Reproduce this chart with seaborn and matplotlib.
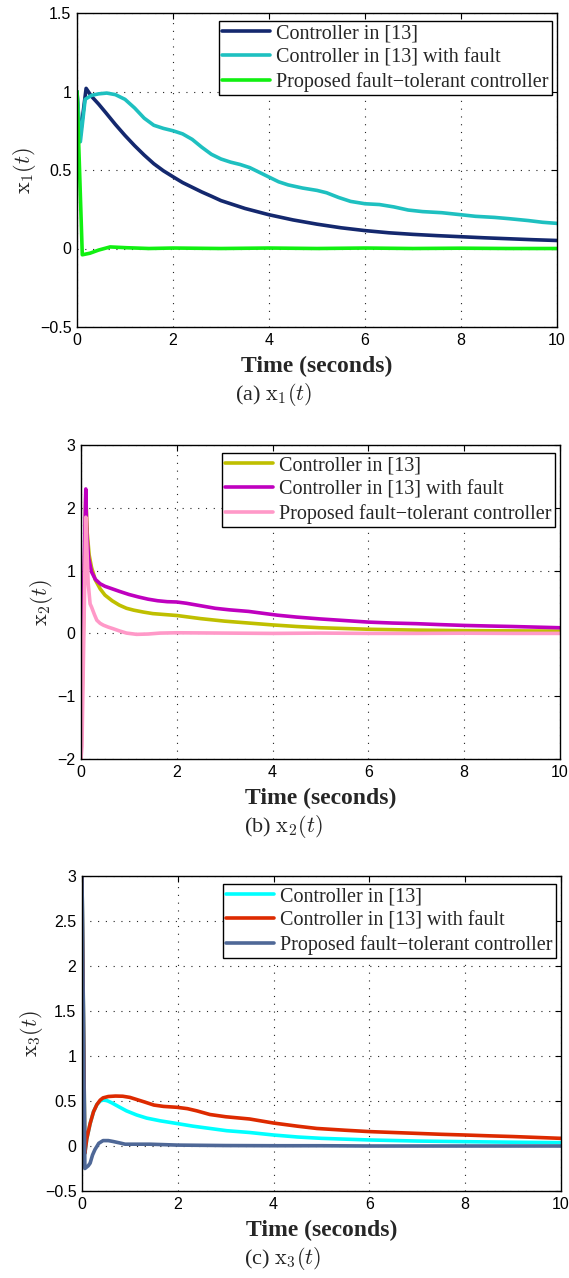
import numpy as np
import pandas as pd
import matplotlib
matplotlib.use("Agg")
import matplotlib.pyplot as plt
import seaborn as sns

# ---------------- data ----------------
legend_labels = ["Controller in [13]", "Controller in [13] with fault",
                 "Proposed fault\u2212tolerant controller"]

# panel (a) x1(t)
t1_nom = [0, 0.06, 0.19, 0.3, 0.45, 0.6, 0.8, 1.0, 1.2, 1.4, 1.6, 1.8, 2.0, 2.2, 2.4, 2.6, 2.8,
          3.0, 3.25, 3.5, 3.75, 4.0, 4.5, 5.0, 5.5, 6.0, 6.5, 7.0, 7.5, 8.0, 8.5, 9.0, 9.5, 10]
x1_nom = [1.0, 0.70, 1.02, 0.97, 0.92, 0.865, 0.79, 0.72, 0.655, 0.595, 0.54, 0.495, 0.457, 0.42,
          0.39, 0.36, 0.333, 0.305, 0.28, 0.255, 0.235, 0.215, 0.182, 0.155, 0.132, 0.114, 0.10,
          0.09, 0.082, 0.075, 0.068, 0.062, 0.056, 0.051]
t1_fault = [0, 0.07, 0.17, 0.3, 0.45, 0.62, 0.8, 1.0, 1.2, 1.4, 1.6, 1.8, 2.0, 2.2, 2.4, 2.6, 2.8,
            3.0, 3.2, 3.4, 3.6, 3.8, 4.0, 4.2, 4.4, 4.7, 5.0, 5.2, 5.45, 5.7, 6.0, 6.3, 6.6, 6.9,
            7.2, 7.6, 8.0, 8.3, 8.7, 9.0, 9.4, 9.7, 10]
x1_fault = [1.0, 0.68, 0.95, 0.975, 0.985, 0.99, 0.98, 0.95, 0.895, 0.83, 0.785, 0.765, 0.75,
            0.73, 0.695, 0.645, 0.60, 0.57, 0.55, 0.535, 0.515, 0.485, 0.455, 0.425, 0.405, 0.385,
            0.37, 0.355, 0.325, 0.30, 0.285, 0.28, 0.265, 0.245, 0.235, 0.228, 0.215, 0.205,
            0.198, 0.19, 0.178, 0.167, 0.16]
t1_ftc = [0, 0.11, 0.27, 0.45, 0.69, 1.03, 1.5, 2.0, 3, 4, 5, 6, 7, 8, 9, 10]
x1_ftc = [1.0, -0.04, -0.03, -0.01, 0.01, 0.005, 0.0, 0.003, 0.0, 0.003, 0.0, 0.003, 0.0, 0.002,
          0.0, 0.0]

# panel (b) x2(t)
t2_nom = [0, 0.1, 0.13, 0.17, 0.22, 0.3, 0.4, 0.5, 0.65, 0.8, 0.95, 1.1, 1.3, 1.5, 1.75, 2.0,
          2.5, 3.0, 3.5, 4.0, 4.5, 5.0, 6.0, 7.0, 8.0, 9.0, 10]
x2_nom = [-2.0, 2.2, 1.6, 1.25, 1.05, 0.85, 0.71, 0.61, 0.52, 0.45, 0.40, 0.37, 0.34, 0.315,
          0.30, 0.285, 0.235, 0.195, 0.165, 0.135, 0.11, 0.09, 0.066, 0.052, 0.044, 0.04, 0.037]
t2_fault = [0, 0.1, 0.12, 0.16, 0.22, 0.3, 0.4, 0.5, 0.65, 0.8, 1.0, 1.2, 1.4, 1.6, 1.8, 2.0,
            2.2, 2.5, 2.8, 3.1, 3.5, 3.8, 4.1, 4.5, 5.0, 5.5, 6.0, 6.5, 7.0, 7.5, 8.0, 8.5, 9.0,
            9.5, 10]
x2_fault = [-1.3, 2.3, 1.6, 1.2, 0.98, 0.86, 0.79, 0.75, 0.71, 0.67, 0.62, 0.58, 0.545, 0.52,
            0.505, 0.50, 0.48, 0.44, 0.40, 0.375, 0.35, 0.32, 0.29, 0.26, 0.23, 0.205, 0.18,
            0.165, 0.155, 0.14, 0.127, 0.118, 0.11, 0.10, 0.09]
t2_ftc = [0, 0.02, 0.1, 0.15, 0.19, 0.22, 0.28, 0.33, 0.4, 0.47, 0.57, 0.67, 0.8, 0.95, 1.16,
          1.4, 1.65, 2.0, 3, 4, 5, 6, 7, 8, 9, 10]
x2_ftc = [-2.0, -1.8, 1.85, 0.8, 0.47, 0.42, 0.30, 0.21, 0.16, 0.13, 0.10, 0.075, 0.04, 0.005,
          -0.015, -0.01, 0.005, 0.01, 0.005, 0.0, 0.005, 0.0, 0.0, 0.003, 0.0, 0.0]

# panel (c) x3(t)
t3_nom = [0, 0.06, 0.1, 0.17, 0.24, 0.31, 0.38, 0.44, 0.52, 0.62, 0.79, 0.93, 1.14, 1.35, 1.63,
          1.98, 2.32, 2.67, 3.02, 3.5, 4.0, 4.5, 5.0, 6.0, 7.0, 8.0, 9.0, 10]
x3_nom = [3.0, -0.08, 0.08, 0.25, 0.38, 0.46, 0.50, 0.51, 0.505, 0.48, 0.43, 0.39, 0.345, 0.31,
          0.28, 0.25, 0.22, 0.195, 0.17, 0.15, 0.122, 0.10, 0.085, 0.067, 0.055, 0.048, 0.042,
          0.037]
t3_fault = [0, 0.06, 0.1, 0.17, 0.24, 0.31, 0.38, 0.44, 0.55, 0.7, 0.85, 1.0, 1.15, 1.3, 1.5,
            1.7, 1.98, 2.2, 2.4, 2.67, 3.0, 3.5, 4.0, 4.5, 4.9, 5.5, 6.0, 6.5, 7.0, 7.5, 8.0,
            8.5, 9.0, 9.5, 10]
x3_fault = [3.0, -0.08, 0.08, 0.25, 0.38, 0.46, 0.51, 0.535, 0.55, 0.555, 0.553, 0.54, 0.515,
            0.49, 0.455, 0.44, 0.43, 0.415, 0.39, 0.35, 0.325, 0.30, 0.255, 0.22, 0.195, 0.175,
            0.16, 0.15, 0.14, 0.13, 0.122, 0.113, 0.105, 0.095, 0.085]
t3_ftc = [0, 0.06, 0.13, 0.17, 0.22, 0.27, 0.35, 0.44, 0.55, 0.65, 0.78, 0.9, 1.42, 2.0, 3.0,
          4.0, 5.0, 6.0, 7.0, 8.0, 9.0, 10]
x3_ftc = [3.0, -0.25, -0.22, -0.19, -0.10, -0.04, 0.03, 0.06, 0.06, 0.05, 0.035, 0.02, 0.02,
          0.01, 0.005, 0.003, 0.003, 0.0, 0.0, 0.0, 0.0, 0.0]

x_ticks = [0, 2, 4, 6, 8, 10]
y_ticks_a = [-0.5, 0, 0.5, 1, 1.5]
y_ticks_b = [-2, -1, 0, 1, 2, 3]
y_ticks_c = [-0.5, 0, 0.5, 1, 1.5, 2, 2.5, 3]

colors_a = ["#14286e", "#1ec0c0", "#11f011"]
colors_b = ["#bfbf00", "#bf00bf", "#ff99c8"]
colors_c = ["#00ffff", "#dd2a00", "#4f6897"]

# ---------------- style ----------------
sns.set_style("white")
plt.rcParams["font.family"] = ["Liberation Sans", "DejaVu Sans"]
plt.rcParams["mathtext.fontset"] = "cm"
plt.rcParams["axes.linewidth"] = 1.0

W, H = 569, 1278
fig = plt.figure(figsize=(W / 100, H / 100), dpi=100)

panels = [
    dict(left=77, right=557, top=13, bottom=327, series=[(t1_nom, x1_nom), (t1_fault, x1_fault), (t1_ftc, x1_ftc)],
         colors=colors_a, yt=y_ticks_a, ylim=(-0.5, 1.5), ylab=r"$\mathrm{x}_1(t)$", ylx=38,
         cap=r"(a) $\mathrm{x}_1(t)$", capx=274),
    dict(left=81, right=560, top=445, bottom=759, series=[(t2_nom, x2_nom), (t2_fault, x2_fault), (t2_ftc, x2_ftc)],
         colors=colors_b, yt=y_ticks_b, ylim=(-2, 3), ylab=r"$\mathrm{x}_2(t)$", ylx=55,
         cap=r"(b) $\mathrm{x}_2(t)$", capx=283),
    dict(left=82, right=561, top=876, bottom=1191, series=[(t3_nom, x3_nom), (t3_fault, x3_fault), (t3_ftc, x3_ftc)],
         colors=colors_c, yt=y_ticks_c, ylim=(-0.5, 3), ylab=r"$\mathrm{x}_3(t)$", ylx=45,
         cap=r"(c) $\mathrm{x}_3(t)$", capx=283),
]

for p in panels:
    w = p["right"] - p["left"]
    h = p["bottom"] - p["top"]
    ax = fig.add_axes([p["left"] / W, 1 - p["bottom"] / H, w / W, h / H])
    for (tt, xx), col, lab in zip(p["series"], p["colors"], legend_labels):
        df = pd.DataFrame({"t": tt, "x": xx})
        sns.lineplot(data=df, x="t", y="x", color=col, linewidth=2.6, label=lab,
                     ax=ax, sort=False, estimator=None)
    ax.set_xlim(0, 10)
    ax.set_ylim(*p["ylim"])
    ax.set_xticks(x_ticks)
    ax.set_yticks(p["yt"])
    ax.set_xticklabels([str(v) for v in x_ticks])
    ax.set_yticklabels([("\u2212" if v < 0 else "") + (f"{abs(v):g}") for v in p["yt"]])
    ax.tick_params(direction="in", length=4, width=0.8, top=True, right=True,
                   labelsize=11.5, pad=4, colors="black")
    ax.grid(True, linestyle=(0, (1, 6)), linewidth=0.8, color="#222222")
    for s in ax.spines.values():
        s.set_visible(True)
        s.set_color("black")
        s.set_linewidth(1.0)
    ax.set_xlabel("Time (seconds)", fontsize=17, fontweight="bold",
                  family=["Liberation Serif", "DejaVu Serif"])
    ax.xaxis.set_label_coords(0.5, -29 / h)
    ax.set_ylabel(p["ylab"], fontsize=16)
    ax.yaxis.set_label_coords((p["ylx"] - p["left"]) / w, 0.5)
    leg = ax.legend(loc="upper right", bbox_to_anchor=(1 - 5 / w, 1 - 8 / h),
                    borderaxespad=0, fancybox=False, frameon=True, edgecolor="black",
                    prop={"family": ["Liberation Serif", "DejaVu Serif"], "size": 14.5},
                    handlelength=2.4, handletextpad=0.3, labelspacing=0.25, borderpad=0.15)
    leg.get_frame().set_linewidth(1.0)
    leg.get_frame().set_alpha(1)
    fig.text(p["capx"] / W, 1 - (p["bottom"] + 68) / H, p["cap"], ha="center", va="center",
             fontsize=16, family=["Liberation Serif", "DejaVu Serif"])

fig.savefig("out.png", dpi=100)
